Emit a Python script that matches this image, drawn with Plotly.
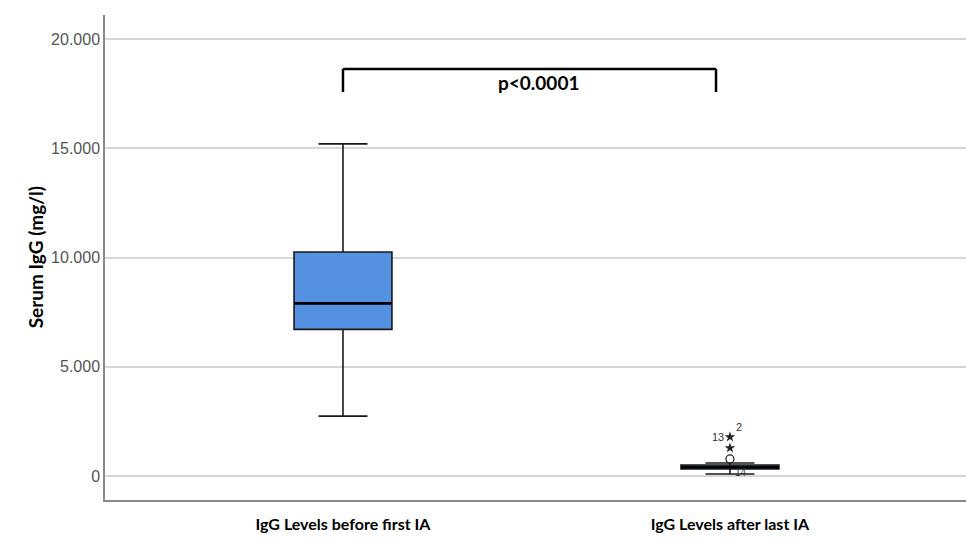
import plotly.graph_objects as go

# ---- data ----
categories = ["IgG Levels before first IA", "IgG Levels after last IA"]
positions = [0, 1]
q1 = [6710, 320]
median = [7900, 400]
q3 = [10250, 500]
lower_whisker = [2740, 92]
upper_whisker = [15200, 595]

outlier_circle_vals = [778]
outlier_star_vals = [1281, 1785]
star_labels = ["", "13"]

y_tickvals = [0, 5000, 10000, 15000, 20000]
y_ticktext = ["0", "5.000", "10.000", "15.000", "20.000"]

p_text = "p<0.0001"

BOX_W = 0.253
BLUE = "#5591E1"

fig = go.Figure()

fig.add_trace(go.Box(
    x=positions, q1=q1, median=median, q3=q3,
    lowerfence=lower_whisker, upperfence=upper_whisker,
    width=BOX_W, whiskerwidth=0.5,
    fillcolor=BLUE, line=dict(color="#1a1a1a", width=1.6),
    boxpoints=False, showlegend=False, hoverinfo="skip",
))

# thicker median lines
for xp, m in zip(positions, median):
    fig.add_shape(type="line", x0=xp - BOX_W / 2, x1=xp + BOX_W / 2, y0=m, y1=m,
                  line=dict(color="#000000", width=2.8), layer="above")

# outliers for second group
fig.add_trace(go.Scatter(
    x=[positions[1]] * len(outlier_circle_vals), y=outlier_circle_vals, mode="markers",
    marker=dict(symbol="circle-open", size=8, color="#222", line=dict(width=1.3)),
    showlegend=False, hoverinfo="skip"))
fig.add_trace(go.Scatter(
    x=[positions[1]] * len(outlier_star_vals), y=outlier_star_vals, mode="markers",
    marker=dict(symbol="star", size=8, color="#222"),
    showlegend=False, hoverinfo="skip"))

# outlier labels
fig.add_annotation(x=positions[1], y=outlier_star_vals[1], text=star_labels[1], showarrow=False,
                   xanchor="right", xshift=-4, font=dict(family="Liberation Sans", size=11, color="#333"))
fig.add_annotation(x=positions[1], y=outlier_star_vals[1], text="2", showarrow=False,
                   xanchor="left", xshift=4, yshift=10, font=dict(family="Liberation Sans", size=11, color="#333"))
fig.add_annotation(x=positions[1], y=lower_whisker[1], text="14", showarrow=False,
                   xanchor="left", xshift=3, yshift=1, font=dict(family="Liberation Sans", size=10, color="#333"))

# significance bracket
br_x0, br_x1 = 0.0, 0.964
br_top, br_bot = 18630, 17575
fig.add_shape(type="line", x0=br_x0, x1=br_x1, y0=br_top, y1=br_top, line=dict(color="#000", width=2.5))
fig.add_shape(type="line", x0=br_x0, x1=br_x0, y0=br_top, y1=br_bot, line=dict(color="#000", width=2.5))
fig.add_shape(type="line", x0=br_x1, x1=br_x1, y0=br_top, y1=br_bot, line=dict(color="#000", width=2.5))
fig.add_annotation(x=0.504, y=18030, text="<b>" + p_text + "</b>", showarrow=False,
                   font=dict(family="Lato", size=19, color="#000"))

# y axis title
fig.add_annotation(xref="paper", yref="paper", x=-0.096, y=0.5, text="<b>Serum IgG (mg/l)</b>",
                   textangle=-90, showarrow=False, font=dict(family="Lato", size=19, color="#000"))

fig.update_layout(
    width=966, height=538,
    margin=dict(l=105, r=0, t=15, b=38),
    plot_bgcolor="white", paper_bgcolor="white",
    xaxis=dict(range=[-0.615, 1.61], tickvals=positions,
               ticktext=["<b>" + c + "</b>" for c in categories],
               tickfont=dict(family="Lato", size=16, color="#000"),
               ticks="outside", ticklen=9, tickcolor="rgba(0,0,0,0)",
               showgrid=False, zeroline=False, showline=True, linecolor="#8a8a8a", linewidth=1.5),
    yaxis=dict(range=[-1100, 21100], tickvals=y_tickvals, ticktext=y_ticktext,
               tickfont=dict(family="Liberation Sans", size=16, color="#555"),
               ticks="", showgrid=True, gridcolor="#d6d6d6", gridwidth=1.5,
               zeroline=False, showline=True, linecolor="#8a8a8a", linewidth=1.5),
)

fig.write_html("out.html", config={"displayModeBar": False},
               post_script="document.body.style.margin='0';document.body.style.overflow='hidden';")
